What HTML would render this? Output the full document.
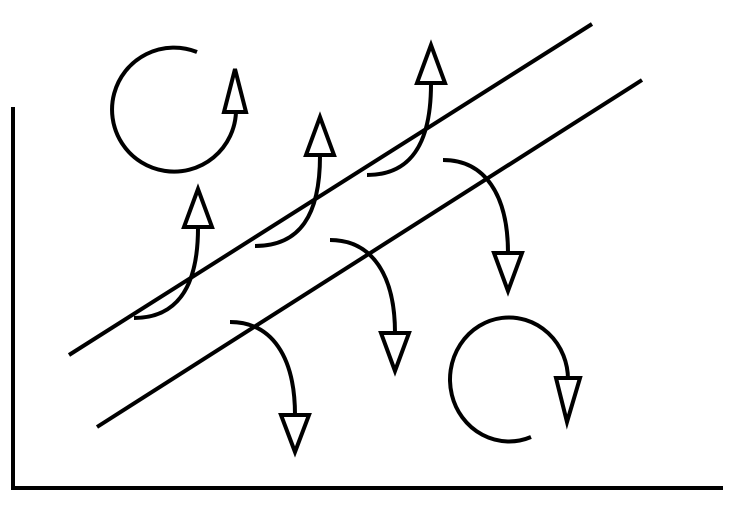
<!DOCTYPE html>
<html><head><style>html,body{margin:0;padding:0;background:#fff}</style></head>
<body>
<svg width="737" height="510" viewBox="0 0 737 510" xmlns="http://www.w3.org/2000/svg">
<g fill="none" stroke="#000" stroke-width="4">
<polyline points="13,107 13,488 723,488"/>
<line x1="69" y1="355" x2="592" y2="24"/>
<line x1="97" y1="427" x2="642" y2="80"/>
<path d="M197,52 A62,62 0 1 0 236,112"/>
<path d="M531,437 A59,62 0 1 1 568,380"/>
<path d="M134,318 C175,318 198,290 198,228"/>
<path d="M255,246 C300,246 320,215 320,156"/>
<path d="M367,175 C410,175 431,145 431,84"/>
<path d="M443,160 C485,160 508,195 508,253"/>
<path d="M330,240 C372,240 395,275 395,333"/>
<path d="M230,322 C272,322 295,357 295,415"/>
</g>
<g fill="#fff" stroke="#000" stroke-width="4" stroke-linejoin="miter">
<polygon points="235,69 224,112 246,112"/>
<polygon points="198,189 184,227 212,227"/>
<polygon points="320,117 306,155 334,155"/>
<polygon points="431,45 417,83 445,83"/>
<polygon points="508,291 494,253 522,253"/>
<polygon points="395,371 381,333 409,333"/>
<polygon points="295,452 281,415 309,415"/>
<polygon points="567,422 556,378 580,378"/>
</g>
</svg>
</body></html>
